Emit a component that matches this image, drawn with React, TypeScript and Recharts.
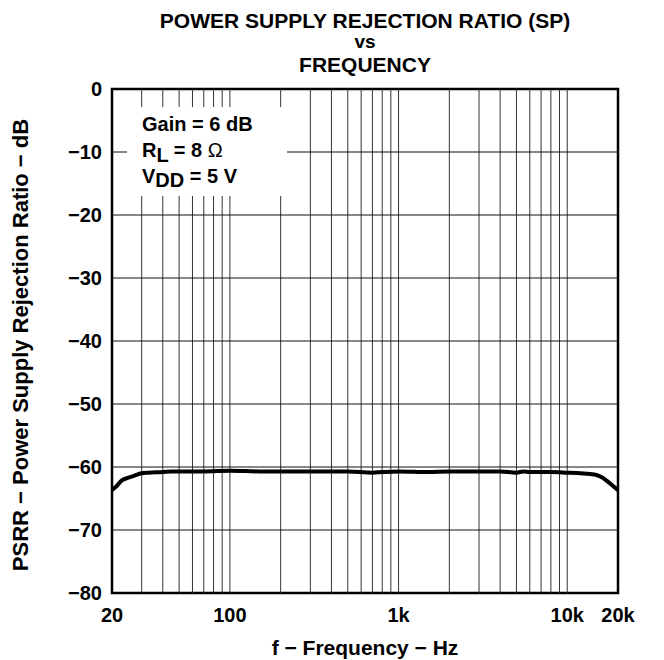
import React from 'react';
import { LineChart, Line, XAxis, YAxis, ReferenceLine, ReferenceArea } from 'recharts';

const freqHz = [20, 21, 23, 25, 27, 30, 33, 40, 45, 55, 70, 100, 150, 200, 300, 500, 700, 800, 1000, 1500, 2000, 3000, 4000, 5000, 5500, 6000, 8000, 10000, 12000, 14500, 20000];
const psrrDb = [-63.7, -63.2, -62.1, -61.7, -61.4, -61.0, -60.9, -60.8, -60.7, -60.7, -60.7, -60.6, -60.7, -60.7, -60.7, -60.7, -60.9, -60.8, -60.7, -60.8, -60.7, -60.7, -60.7, -60.9, -60.7, -60.8, -60.8, -60.9, -61.0, -61.2, -63.7];

const xTicks = [20, 100, 1000, 10000, 20000];
const xTickLabels = ['20', '100', '1k', '10k', '20k'];
const yTicks = [-80, -70, -60, -50, -40, -30, -20, -10, 0];
const xGrid = [30, 40, 50, 60, 70, 80, 90, 100, 200, 300, 400, 500, 600, 700, 800, 900, 1000, 2000, 3000, 4000, 5000, 6000, 7000, 8000, 9000, 10000];
const yGrid = [-70, -60, -50, -40, -30, -20, -10];

const data = freqHz.map((f, i) => ({ f, psrr: psrrDb[i] }));

const FONT = '"Liberation Sans", Arial, Helvetica, sans-serif';
const tickStyle = { fill: '#000', fontSize: 20, fontWeight: 700, fontFamily: FONT };

const fmtX = (v: number) => {
  const i = xTicks.indexOf(v);
  return i >= 0 ? xTickLabels[i] : String(v);
};
const fmtY = (v: number) => (v < 0 ? '\u2212' + Math.abs(v) : String(v));

export default function App() {
  return (
    <div style={{ position: 'absolute', left: 0, top: 0, width: 664, height: 660, background: '#fff' }}>
      <LineChart width={664} height={660} data={data} margin={{ top: 89, right: 46, bottom: 0, left: 0 }}>
        <XAxis
          dataKey="f"
          type="number"
          scale="log"
          domain={[20, 20000]}
          ticks={xTicks}
          interval={0}
          tickFormatter={fmtX}
          height={67}
          tickSize={0}
          tickMargin={15}
          axisLine={false}
          tickLine={false}
          allowDataOverflow
          tick={tickStyle}
        />
        <YAxis
          type="number"
          domain={[-80, 0]}
          ticks={yTicks}
          interval={0}
          tickFormatter={fmtY}
          width={112}
          tickSize={0}
          tickMargin={10}
          axisLine={false}
          tickLine={false}
          allowDataOverflow
          tick={tickStyle}
        />
        {xGrid.map((f) => (
          <ReferenceLine key={'x' + f} x={f} stroke="#333" strokeWidth={1} />
        ))}
        {yGrid.map((v) => (
          <ReferenceLine key={'y' + v} y={v} stroke="#111" strokeWidth={1} />
        ))}
        <Line
          dataKey="psrr"
          type="monotone"
          stroke="#000"
          strokeWidth={4}
          dot={false}
          activeDot={false}
          isAnimationActive={false}
        />
        <ReferenceArea x1={20} x2={20000} y1={-80} y2={0} fill="none" stroke="#000" strokeWidth={2.5} />
      </LineChart>
      <svg
        width={664}
        height={660}
        style={{ position: 'absolute', left: 0, top: 0, pointerEvents: 'none' }}
        fontFamily={FONT}
        fontWeight={700}
        fill="#000"
      >
        <text x={365} y={28} fontSize={21} textAnchor="middle">POWER SUPPLY REJECTION RATIO (SP)</text>
        <text x={365} y={48} fontSize={19} textAnchor="middle">vs</text>
        <text x={365} y={72} fontSize={21} textAnchor="middle">FREQUENCY</text>

        <rect x={127} y={107} width={160} height={89} fill="#fff" />
        <text x={142} y={131} fontSize={20}>Gain = 6 dB</text>
        <text x={142} y={157} fontSize={20}>
          R<tspan dy={5}>L</tspan>
          <tspan dy={-5}> = 8 </tspan>
          <tspan fontWeight={400}>Ω</tspan>
        </text>
        <text x={142} y={183} fontSize={20}>
          V<tspan dy={4}>DD</tspan>
          <tspan dy={-4}> = 5 V</tspan>
        </text>

        <text x={365} y={655} fontSize={21} textAnchor="middle">f − Frequency − Hz</text>
        <text transform="translate(28,345) rotate(-90)" fontSize={22} textAnchor="middle">
          PSRR − Power Supply Rejection Ratio − dB
        </text>
      </svg>
    </div>
  );
}
